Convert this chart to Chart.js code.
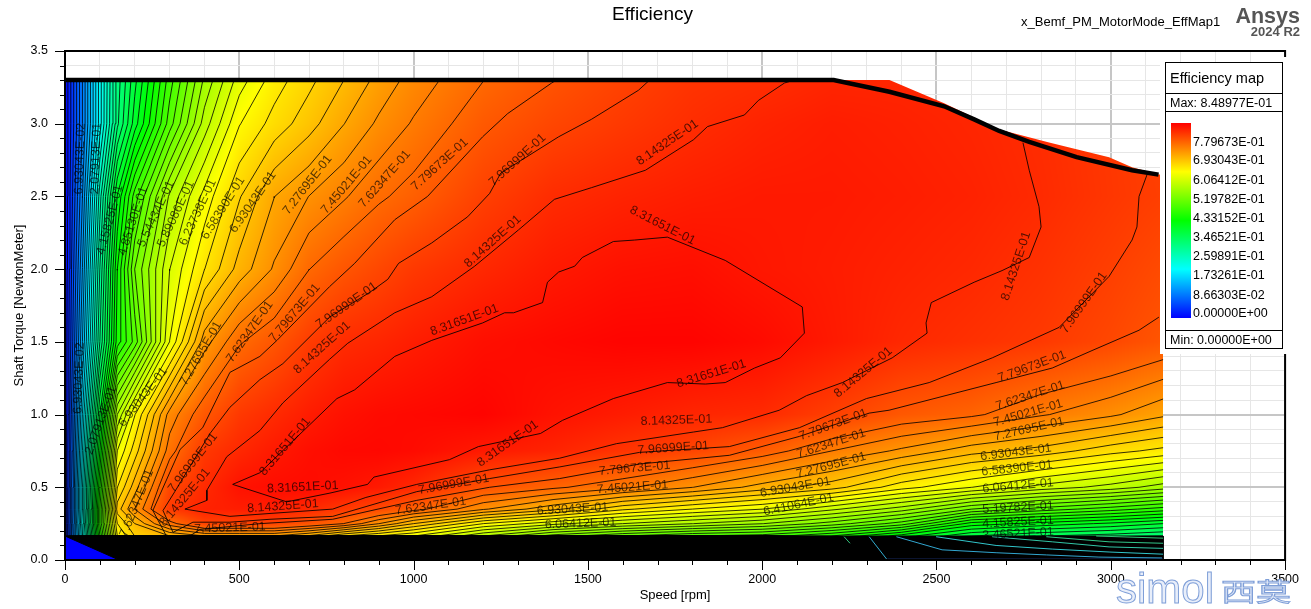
<!DOCTYPE html>
<html>
<head>
<meta charset="utf-8">
<title>Efficiency</title>
<script src="https://cdn.jsdelivr.net/npm/chart.js@4/dist/chart.umd.min.js"></script>
<style>
html, body { margin: 0; padding: 0; background: #fff; }
#wrap { position: relative; width: 1311px; height: 609px; overflow: hidden; font-family: "Liberation Sans", Arial, sans-serif; color: #000; }
#graphCanvas { position: absolute; left: 0; top: 0; }
.t { position: absolute; white-space: nowrap; line-height: 1; }
.leg-line { position: absolute; left: 0; right: 0; height: 1px; background: #000; }
</style>
</head>
<body>
<div id="wrap">
    <canvas id="graphCanvas" width="1311" height="609"></canvas>
    <div class="t" style="left:612px;top:4px;font-size:19px;">Efficiency</div>
    <div class="t" style="left:1021px;top:15px;font-size:13px;">x_Bemf_PM_MotorMode_EffMap1</div>
    <div class="t" style="right:11px;top:6px;font-size:21.5px;font-weight:bold;color:#555;">Ansys</div>
    <div class="t" style="right:11px;top:25px;font-size:13px;font-weight:bold;color:#555;">2024 R2</div>
    <div style="position:absolute;left:1160px;top:62px;width:128px;height:292px;background:#fff;"></div>
    <div style="position:absolute;left:1283px;top:57px;width:5px;height:6px;background:#fff;"></div>
    <div id="legendBox" style="position:absolute;left:1165px;top:62px;width:116px;height:285px;border:1px solid #000;background:#fff;">
        <div class="t" id="legendTitle" style="left:4px;top:8px;font-size:14.5px;"></div>
        <div class="leg-line" style="top:30px;"></div>
        <div class="t" id="legendMax" style="left:4px;top:34px;font-size:12.5px;"></div>
        <div class="leg-line" style="top:48px;"></div>
        <div id="legendBar" style="position:absolute;left:5px;top:60px;width:20px;height:195px;background:linear-gradient(to top,#00f 0%,#0ff 25%,#0f0 50%,#ff0 75%,#f00 100%);"></div>
        <div class="leg-line" style="top:267px;"></div>
        <div class="t" id="legendMin" style="left:4px;top:271px;font-size:12.5px;"></div>
    </div>
    <div class="t" style="left:1116px;top:568px;font-size:42px;color:#e8eefa;-webkit-text-stroke:1px #7f9fd8;">simol</div>
    <div class="t" style="left:1221px;top:578px;font-size:25px;font-family:'Noto Sans CJK SC';color:#e8eefa;-webkit-text-stroke:1px #7f9fd8;transform:scaleX(1.4);transform-origin:left top;">西莫</div>
</div>

<script>
// efficiency, one list per torque row
var speeds = [0, 50, 100, 150, 200, 300, 400, 500, 600, 700, 800, 900, 1000, 1200, 1400, 1600, 1800, 2000, 2200, 2400, 2600, 2800, 3000, 3150];
var torques = [0, 0.04, 0.1, 0.16, 0.165, 0.25, 0.35, 0.5, 0.75, 1, 1.5, 2, 2.5, 3, 3.3];

var eff_t000 = [0, 0, 0, 0, 0, 0, 0, 0, 0, 0, 0, 0, 0, 0, 0, 0, 0, 0, 0, 0, 0, 0, 0, 0];
var eff_t004 = [0, 0, 0, 0, 0, 0, 0, 0, 0, 0, 0, 0, 0, 0, 0, 0, 0, 0, 0.1, 0.052, 0.087, 0.08, 0.07, 0.07];
var eff_t010 = [0, 0, 0, 0, 0, 0, 0, 0, 0, 0, 0, 0, 0, 0, 0, 0, 0, 0, 0.3, 0.26, 0.208, 0.19, 0.182, 0.173];
var eff_t016 = [0, 0, 0, 0, 0, 0, 0, 0, 0, 0, 0, 0, 0, 0, 0, 0, 0, 0, 0.44, 0.4, 0.355, 0.34, 0.33, 0.32];
var eff_t0165 = [0, 0.225, 0.45, 0.641, 0.676, 0.693, 0.71, 0.71, 0.71, 0.69, 0.658, 0.64, 0.624, 0.572, 0.529, 0.503, 0.485, 0.477, 0.45, 0.407, 0.364, 0.347, 0.338, 0.329];
var eff_t025 = [0, 0.234, 0.468, 0.658, 0.693, 0.754, 0.794, 0.794, 0.794, 0.78, 0.762, 0.728, 0.693, 0.641, 0.612, 0.589, 0.572, 0.555, 0.529, 0.494, 0.426, 0.409, 0.395, 0.381];
var eff_t035 = [0, 0.225, 0.468, 0.684, 0.728, 0.802, 0.821, 0.825, 0.825, 0.815, 0.802, 0.79, 0.77, 0.73, 0.698, 0.662, 0.641, 0.624, 0.593, 0.563, 0.52, 0.495, 0.476, 0.46];
var eff_t050 = [0, 0.225, 0.45, 0.658, 0.702, 0.79, 0.814, 0.834, 0.839, 0.84, 0.835, 0.828, 0.816, 0.781, 0.766, 0.749, 0.728, 0.703, 0.683, 0.648, 0.624, 0.6, 0.582, 0.563];
var eff_t075 = [0, 0.208, 0.416, 0.624, 0.667, 0.754, 0.802, 0.816, 0.828, 0.837, 0.842, 0.843, 0.84, 0.828, 0.82, 0.806, 0.792, 0.773, 0.745, 0.724, 0.7, 0.686, 0.665, 0.653];
var eff_t100 = [0, 0.191, 0.381, 0.572, 0.64, 0.735, 0.776, 0.802, 0.814, 0.826, 0.835, 0.84, 0.842, 0.846, 0.834, 0.826, 0.818, 0.814, 0.797, 0.776, 0.766, 0.747, 0.731, 0.714];
var eff_t150 = [0, 0.156, 0.312, 0.442, 0.492, 0.624, 0.72, 0.76, 0.778, 0.799, 0.813, 0.818, 0.825, 0.837, 0.842, 0.846, 0.846, 0.84, 0.828, 0.816, 0.809, 0.802, 0.79, 0.778];
var eff_t200 = [0, 0.139, 0.295, 0.433, 0.52, 0.606, 0.658, 0.7, 0.73, 0.762, 0.778, 0.79, 0.802, 0.816, 0.828, 0.835, 0.837, 0.83, 0.826, 0.821, 0.816, 0.808, 0.797, 0.787];
var eff_t250 = [0, 0.121, 0.269, 0.4, 0.476, 0.575, 0.63, 0.674, 0.71, 0.728, 0.743, 0.759, 0.77, 0.796, 0.813, 0.82, 0.825, 0.828, 0.828, 0.825, 0.821, 0.814, 0.804, 0.797];
var eff_t300 = [0, 0.104, 0.217, 0.325, 0.39, 0.494, 0.58, 0.64, 0.665, 0.686, 0.71, 0.731, 0.747, 0.775, 0.791, 0.802, 0.812, 0.82, 0.825, 0.822, 0.818, 0.812, 0.803, 0.795];
var eff_t330 = [0, 0.104, 0.217, 0.32, 0.376, 0.477, 0.558, 0.615, 0.65, 0.671, 0.693, 0.716, 0.735, 0.762, 0.78, 0.794, 0.806, 0.811, 0.818, 0.818, 0.815, 0.81, 0.8, 0.79];

// upper contours traced by hand, [rpm, torque]
var level48 = [[481,0.52],[559,0.6],[702,0.93],[780,1.11],[831,1.17],[946,1.4],[1052,1.51],[1198,1.63],[1261,1.7],[1287,1.7],[1370,1.77],[1384,1.91],[1416,1.98],[1462,2.02],[1484,2.08],[1573,2.19],[1634,2.2],[1728,2.22],[1894,2.06],[2115,1.74],[2121,1.56],[2052,1.39],[1978,1.32],[1894,1.22],[1837,1.21],[1728,1.22],[1573,1.11],[1427,0.96],[1364,0.87],[1186,0.78],[1103,0.69],[886,0.57],[868,0.52],[760,0.46],[636,0.4],[481,0.52]];
var level47 = [[2092,3.3],[2064,3.28],[1989,3.16],[1949,3.06],[1843,2.98],[1803,2.89],[1665,2.68],[1510,2.56],[1404,2.48],[1301,2.27],[1175,2.02],[1052,1.81],[946,1.7],[811,1.49],[759,1.38],[625,1.08],[559,0.89],[464,0.71],[407,0.48],[407,0.41],[344,0.35],[473,0.3],[588,0.32],[768,0.35],[863,0.43],[1009,0.52],[1218,0.62],[1419,0.7],[1582,0.8],[1803,0.88],[1886,0.91],[2049,1.03],[2127,1.13],[2230,1.22],[2373,1.39],[2473,1.56],[2470,1.63],[2485,1.77],[2608,1.91],[2688,1.99],[2766,2.08],[2800,2.29],[2794,2.43],[2766,2.68],[2748,2.87]];
var level46 = [[1677,3.3],[1645,3.23],[1510,3.03],[1416,2.91],[1250,2.66],[1218,2.52],[1155,2.36],[1052,2.18],[957,2.04],[926,1.93],[874,1.84],[759,1.67],[625,1.35],[559,1.24],[473,1.05],[416,0.87],[315,0.47],[281,0.34],[310,0.19],[367,0.26],[473,0.26],[588,0.28],[768,0.3],[1009,0.47],[1218,0.56],[1419,0.64],[1648,0.74],[1906,0.78],[2107,0.91],[2299,1.11],[2479,1.22],[2660,1.39],[2852,1.6],[2995,1.95],[3061,2.2],[3075,2.29],[3081,2.5],[3104,2.65]];
var level45a = [[1410,3.3],[1396,3.28],[1270,3.07],[1198,2.91],[1040,2.5],[946,2.34],[831,2.04],[759,1.88],[608,1.51],[559,1.4],[473,1.29],[395,0.91],[330,0.76],[252,0.34],[292,0.16]];
var level45b = [[358,0.165],[387,0.21],[559,0.25],[768,0.28],[1009,0.41],[1218,0.5],[1419,0.56],[1648,0.66],[1906,0.72],[2107,0.85],[2307,1.01],[2364,1.03],[2671,1.22],[2832,1.32],[2946,1.44],[3081,1.58],[3138,1.67]];

// low levels that still show through the dense band at high speed
var gapLevels = [0.03, 0.16, 0.22, 0.28, 0.33, 0.36, 0.35, 0.17];
var gapLines = [
    [[2359,0.005],[3150,0.005]],
    [[2385,0.16],[2516,0.07],[2671,0.05],[2815,0.035],[2966,0.02],[3147,0.014]],
    [[2499,0.16],[2671,0.1],[2832,0.075],[2995,0.055],[3150,0.04]],
    [[2660,0.16],[2832,0.125],[2995,0.09],[3150,0.08]],
    [[2815,0.16],[2995,0.125],[3150,0.115]],
    [[2958,0.165],[3150,0.15]],
    [[2235,0.16],[2252,0.115]],
    [[2307,0.16],[2359,0]]
];

// operating limit and the area the map covers
var limitCurve = [[0,3.3],[2205,3.3],[2365,3.22],[2522,3.12],[2608,3.03],[2680,2.95],[2766,2.875],[2902,2.77],[3061,2.68],[3137,2.65]];
var mapOutline = [[0,0],[0,3.3],[2365,3.3],[2522,3.14],[2680,2.96],[2823,2.87],[2995,2.77],[3061,2.7],[3138,2.65],[3150,2.65],[3150,0]];
var denseBand = [[0,0.165],[3150,0.165],[3150,0],[155,0],[0,0.165]];

var levelStep = 0.0173261;
var topGridLevel = 44;

var legendTitle = 'Efficiency map';
var legendMax = 'Max: 8.48977E-01';
var legendMin = 'Min: 0.00000E+00';
var legendLabels = ['7.79673E-01', '6.93043E-01', '6.06412E-01', '5.19782E-01', '4.33152E-01', '3.46521E-01', '2.59891E-01', '1.73261E-01', '8.66303E-02', '0.00000E+00'];

// [text, rpm, torque, angle]
var contourLabels = [
    ['8.31651E-01',1714,2.30,27],['8.14325E-01',1728,2.87,-34],['7.96999E-01',1298,2.75,-42],['7.79673E-01',1075,2.72,-42],
    ['7.62347E-01',917,2.62,-49],['7.45021E-01',808,2.58,-50],['7.27695E-01',696,2.58,-52],['6.93043E-01',539,2.46,-55],
    ['6.58390E-01',453,2.42,-58],['6.23738E-01',381,2.39,-65],['5.89086E-01',318,2.38,-65],['5.54434E-01',261,2.38,-65],
    ['4.85130E-01',195,2.33,-72],['4.15825E-01',129,2.34,-75],['6.93043E-02',43,2.76,-88],['2.07913E-01',89,2.76,-88],
    ['8.14325E-01',1227,2.19,-42],['7.96999E-01',808,1.75,-35],['7.79673E-01',659,1.70,-50],['7.62347E-01',530,1.57,-55],
    ['7.27695E-01',390,1.42,-60],['8.14325E-01',737,1.46,-42],['8.31651E-01',1146,1.65,-20],['6.93043E-01',224,1.12,-52],
    ['8.31651E-01',631,0.78,-50],['7.96999E-01',367,0.67,-52],['8.14325E-01',344,0.43,-50],['8.31651E-01',682,0.50,-3],
    ['8.14325E-01',625,0.37,-4],['7.45021E-01',473,0.22,-2],['7.62347E-01',206,0.39,-68],['7.96999E-01',1115,0.52,-10],
    ['7.62347E-01',1049,0.37,-8],['8.31651E-01',1270,0.80,-35],['8.14325E-01',1754,0.96,-2],['7.96999E-01',1745,0.77,-4],
    ['7.79673E-01',1634,0.63,-5],['7.45021E-01',1628,0.50,-4],['6.93043E-01',1456,0.35,-3],['6.06412E-01',1479,0.25,-2],
    ['8.31651E-01',1854,1.28,-17],['8.14325E-01',2290,1.29,-40],['7.79673E-01',2204,0.93,-20],['7.62347E-01',2198,0.80,-18],
    ['7.27695E-01',2198,0.65,-15],['6.93043E-01',2095,0.50,-10],['6.41064E-01',2104,0.38,-12],['8.14325E-01',2728,2.02,-72],
    ['7.96999E-01',2923,1.77,-55],['7.79673E-01',2774,1.33,-20],['7.62347E-01',2769,1.13,-18],['7.45021E-01',2763,1.01,-16],
    ['7.27695E-01',2766,0.90,-13],['6.93043E-01',2728,0.74,-7],['6.58390E-01',2731,0.63,-6],['6.06412E-01',2734,0.51,-5],
    ['5.19782E-01',2734,0.36,-3],['4.15825E-01',2734,0.26,-3],['3.46521E-01',2734,0.18,-3],['6.93043E-02',40,1.25,-88],
    ['2.07913E-01',103,0.96,-70]
];

var effRows = [eff_t000, eff_t004, eff_t010, eff_t016, eff_t0165, eff_t025, eff_t035, eff_t050, eff_t075, eff_t100, eff_t150, eff_t200, eff_t250, eff_t300, eff_t330];
var maxEff = 0.848977;

function toPoints(list) {
    var pts = [];
    for (var i in list) {
        pts.push({x: list[i][0], y: list[i][1]});
    }
    return pts;
}

// contour of the read table, one short piece per cell
function gridContour(level) {
    var pts = [];
    function cross(x1, y1, v1, x2, y2, v2) {
        var f = (level - v1) / (v2 - v1);
        return {x: x1 + (x2 - x1) * f, y: y1 + (y2 - y1) * f};
    }
    for (var j = 0; j < torques.length - 1; j++) {
        for (var i = 0; i < speeds.length - 1; i++) {
            var x0 = speeds[i], x1 = speeds[i + 1], y0 = torques[j], y1 = torques[j + 1];
            var a = effRows[j][i], b = effRows[j][i + 1], c = effRows[j + 1][i + 1], d = effRows[j + 1][i];
            var hits = [];
            if ((a < level) !== (b < level)) hits.push(cross(x0, y0, a, x1, y0, b));
            if ((b < level) !== (c < level)) hits.push(cross(x1, y0, b, x1, y1, c));
            if ((c < level) !== (d < level)) hits.push(cross(x1, y1, c, x0, y1, d));
            if ((d < level) !== (a < level)) hits.push(cross(x0, y1, d, x0, y0, a));
            for (var k = 0; k + 1 < hits.length; k += 2) {
                pts.push(hits[k], hits[k + 1], {x: NaN, y: NaN});
            }
        }
    }
    return pts;
}

function valueAt(rpm, t) {
    var i = 0, j = 0;
    while (i < speeds.length - 2 && rpm > speeds[i + 1]) i++;
    while (j < torques.length - 2 && t > torques[j + 1]) j++;
    var fx = Math.min(1, Math.max(0, (rpm - speeds[i]) / (speeds[i + 1] - speeds[i])));
    var fy = Math.min(1, Math.max(0, (t - torques[j]) / (torques[j + 1] - torques[j])));
    var low = effRows[j][i] * (1 - fx) + effRows[j][i + 1] * fx;
    var high = effRows[j + 1][i] * (1 - fx) + effRows[j + 1][i + 1] * fx;
    return low * (1 - fy) + high * fy;
}

function rainbow(v) {
    var h = 4 * (1 - Math.min(1, v / maxEff)); // 0 red .. 4 blue
    var n = Math.floor(h), f = h - n;
    if (n === 0) return [255, 255 * f, 0];
    if (n === 1) return [255 * (1 - f), 255, 0];
    if (n === 2) return [0, 255, 255 * f];
    if (n === 3) return [0, 255 * (1 - f), 255];
    return [0, 0, 255];
}

var heatPlugin = {
    id: 'heat',
    beforeDatasetsDraw: function(chart) {
        var xs = chart.scales.x, ys = chart.scales.y, ctx = chart.ctx;
        var left = Math.round(xs.getPixelForValue(0)), right = Math.round(xs.getPixelForValue(3150));
        var top = Math.round(ys.getPixelForValue(3.3)), bottom = Math.round(ys.getPixelForValue(0));
        var w = right - left, h = bottom - top;
        var off = document.createElement('canvas');
        off.width = w;
        off.height = h;
        var octx = off.getContext('2d');
        var img = octx.createImageData(w, h);
        for (var py = 0; py < h; py++) {
            var t = ys.getValueForPixel(top + py + 0.5);
            for (var px = 0; px < w; px++) {
                var c = rainbow(valueAt(xs.getValueForPixel(left + px + 0.5), t));
                var p = (py * w + px) * 4;
                img.data[p] = c[0];
                img.data[p + 1] = c[1];
                img.data[p + 2] = c[2];
                img.data[p + 3] = 255;
            }
        }
        octx.putImageData(img, 0, 0);
        ctx.save();
        ctx.beginPath();
        for (var i in mapOutline) {
            ctx.lineTo(xs.getPixelForValue(mapOutline[i][0]), ys.getPixelForValue(mapOutline[i][1]));
        }
        ctx.closePath();
        ctx.clip();
        ctx.drawImage(off, left, top);
        ctx.restore();
    }
};

var framePlugin = {
    id: 'frame',
    afterDatasetsDraw: function(chart) {
        var xs = chart.scales.x, ys = chart.scales.y, ctx = chart.ctx, area = chart.chartArea;
        ctx.save();
        ctx.font = '12.5px "Liberation Sans", Arial, sans-serif';
        ctx.fillStyle = 'rgba(0,0,0,0.68)';
        ctx.textAlign = 'center';
        ctx.textBaseline = 'middle';
        for (var i in contourLabels) {
            var lab = contourLabels[i];
            ctx.save();
            ctx.translate(xs.getPixelForValue(lab[1]), ys.getPixelForValue(lab[2]));
            ctx.rotate(lab[3] * Math.PI / 180);
            ctx.fillText(lab[0], 0, 0);
            ctx.restore();
        }
        ctx.strokeStyle = '#000';
        ctx.lineWidth = 1;
        ctx.beginPath();
        xs.ticks.forEach(function(tick) {
            var x = Math.round(xs.getPixelForValue(tick.value)) + 0.5;
            ctx.moveTo(x, area.bottom);
            ctx.lineTo(x, area.bottom + (tick.value % 500 === 0 ? 10 : 5));
        });
        ys.ticks.forEach(function(tick) {
            var y = Math.round(ys.getPixelForValue(tick.value)) + 0.5;
            ctx.moveTo(area.left, y);
            ctx.lineTo(area.left - (isMajorTorque(tick.value) ? 10 : 5), y);
        });
        ctx.stroke();
        ctx.lineWidth = 2;
        ctx.strokeRect(area.left, area.top, area.right - area.left, area.bottom - area.top);
        ctx.restore();
    }
};

function isMajorTorque(v) {
    return Math.abs(v * 2 - Math.round(v * 2)) < 1e-6;
}

function lineSet(points, width, order) {
    return {
        data: points,
        showLine: true,
        borderColor: '#000',
        backgroundColor: '#000',
        borderWidth: width,
        pointRadius: 0,
        tension: 0,
        spanGaps: false,
        order: order
    };
}

var datasets = [];
datasets.push(lineSet(toPoints(limitCurve), 4.5, 0));
for (var g in gapLines) {
    var gapSet = lineSet(toPoints(gapLines[g]), 1, 1);
    var gc = rainbow(gapLevels[g]);
    gapSet.borderColor = 'rgb(' + Math.round(gc[0] * 0.5 + 50) + ',' + Math.round(gc[1] * 0.5 + 70) + ',' + Math.round(gc[2] * 0.5 + 80) + ')';
    datasets.push(gapSet);
}
var bandSet = lineSet(toPoints(denseBand), 1, 2);
bandSet.fill = 'shape';
datasets.push(bandSet);
datasets.push(lineSet(toPoints(level48), 0.85, 3));
datasets.push(lineSet(toPoints(level47), 0.85, 3));
datasets.push(lineSet(toPoints(level46), 0.85, 3));
datasets.push(lineSet(toPoints(level45a), 0.85, 3));
datasets.push(lineSet(toPoints(level45b), 0.85, 3));
for (var n = 1; n <= topGridLevel; n++) {
    datasets.push(lineSet(gridContour(n * levelStep), 0.8, 4));
}

var tickFont = {family: '"Liberation Sans", Arial, sans-serif', size: 12.5};

new Chart(document.getElementById('graphCanvas'), {
    type: 'scatter',
    data: {datasets: datasets},
    plugins: [heatPlugin, framePlugin],
    options: {
        responsive: false,
        animation: false,
        layout: {padding: {top: 51, right: 25, left: 0, bottom: 0}},
        plugins: {legend: {display: false}, tooltip: {enabled: false}, title: {display: false}},
        scales: {
            x: {
                type: 'linear',
                min: 0,
                max: 3500,
                afterFit: function(scale) { scale.height = 49; },
                border: {display: false},
                grid: {
                    drawTicks: false,
                    color: function(c) { return c.tick && c.tick.value % 500 === 0 ? '#c6c6c6' : '#e6e6e6'; },
                    lineWidth: function(c) { return c.tick && c.tick.value % 500 === 0 ? 2 : 1; }
                },
                ticks: {
                    stepSize: 100,
                    autoSkip: false,
                    maxRotation: 0,
                    padding: 12,
                    color: '#000',
                    font: tickFont,
                    callback: function(value) { return value % 500 === 0 ? String(value) : ''; }
                },
                title: {display: true, text: 'Speed [rpm]', color: '#000', font: {family: tickFont.family, size: 13}, padding: {top: 0, bottom: 6}}
            },
            y: {
                type: 'linear',
                min: 0,
                max: 3.5,
                afterFit: function(scale) { scale.width = 65; },
                border: {display: false},
                grid: {
                    drawTicks: false,
                    color: function(c) { return c.tick && isMajorTorque(c.tick.value) ? '#c6c6c6' : '#e6e6e6'; },
                    lineWidth: function(c) { return c.tick && isMajorTorque(c.tick.value) ? 2 : 1; }
                },
                ticks: {
                    stepSize: 0.1,
                    autoSkip: false,
                    padding: 17,
                    color: '#000',
                    font: tickFont,
                    callback: function(value) { return isMajorTorque(value) ? value.toFixed(1) : ''; }
                },
                title: {display: true, text: 'Shaft Torque [NewtonMeter]', color: '#000', font: {family: tickFont.family, size: 13}, padding: {top: 12, bottom: 0}}
            }
        }
    }
});

// legend box text
document.getElementById('legendTitle').textContent = legendTitle;
document.getElementById('legendMax').textContent = legendMax;
document.getElementById('legendMin').textContent = legendMin;
var legendTop = [73, 91, 111, 130, 149, 168, 187, 206, 226, 244];
for (var q in legendLabels) {
    var el = document.createElement('div');
    el.className = 't';
    el.style.left = '27px';
    el.style.top = legendTop[q] + 'px';
    el.style.fontSize = '12.5px';
    el.textContent = legendLabels[q];
    document.getElementById('legendBox').appendChild(el);
}
</script>
</body>
</html>
